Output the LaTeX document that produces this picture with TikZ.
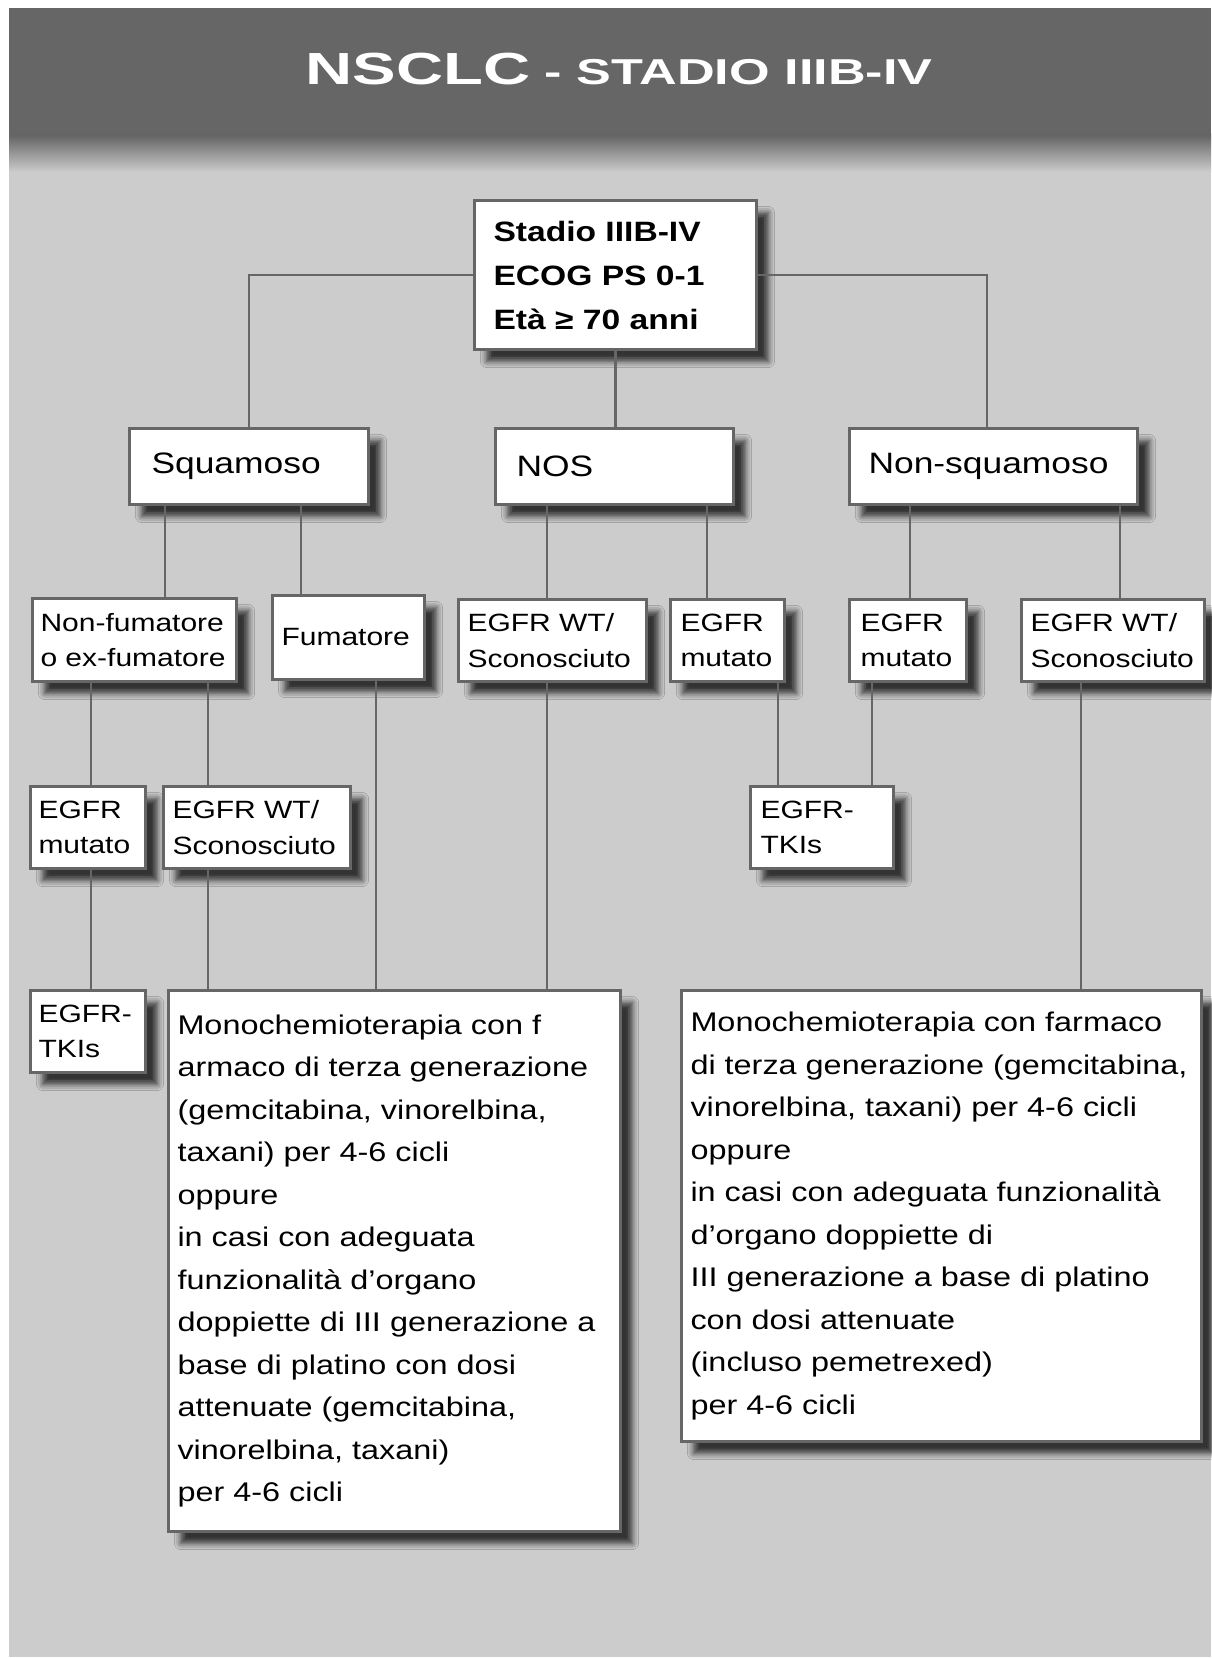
\documentclass[tikz,border=0pt]{standalone}
\usepackage{fontspec}
\setmainfont{Liberation Sans}[FakeStretch=1.2]
\newfontfamily\titlefont{Liberation Sans}[FakeStretch=1.45]
\usetikzlibrary{positioning, shadows.blur}

\definecolor{panelgray}{HTML}{CCCCCC}
\definecolor{bargray}{HTML}{666666}
\definecolor{edgegray}{HTML}{666666}

\begin{document}
\begin{tikzpicture}[
    x=1pt, y=-1pt,
    block/.style={
        rectangle,
        anchor=north west,
        align=left,
        inner ysep=0pt,
        draw=edgegray,
        fill=white,
        line width=3pt,
        blur shadow={shadow xshift=12pt, shadow yshift=-12pt,
            shadow blur radius=6pt, shadow opacity=75}
    },
    lvlone/.style={font=\fontsize{29.5}{36}\selectfont},
    lvltwo/.style={font=\fontsize{25}{35.5}\selectfont},
    lvlthree/.style={font=\fontsize{27}{42.5}\selectfont},
    wire/.style={
        draw=edgegray,
        line width=2.5pt
    }
]

    % page and header bar
    \useasboundingbox (0,0) rectangle (1211,1659);
    \fill [white] (0,0) rectangle (1211,1659);
    \fill [panelgray] (9,8) rectangle (1211,1657);
    \shade [top color=black!62, bottom color=panelgray] (9,134) rectangle (1211,172);
    \fill [bargray] (9,8) rectangle (1211,135);

    \node (title) [anchor=base, text=white, font=\titlefont\bfseries] at (619,85)
        {{\fontsize{45}{54}\selectfont NSCLC}\fontsize{36}{43}\selectfont\ - STADIO IIIB-IV};

    % root
    \node (root) [block, font=\bfseries\fontsize{28}{44}\selectfont,
        minimum width=282pt, minimum height=149pt, inner xsep=19pt, text width=244pt]
        at (473,199) {Stadio IIIB-IV\\ECOG PS 0-1\\Età ≥ 70 anni};

    % histology
    \node (squam) [block, lvlone, minimum width=239pt, minimum height=76pt,
        inner xsep=22pt, text width=195pt] at (128,427) {Squamoso};
    \node (nos) [block, lvlone, minimum width=238pt, minimum height=76pt,
        inner xsep=21pt, text width=196pt] at (494,427) {NOS};
    \node (nonsq) [block, lvlone, minimum width=288pt, minimum height=76pt,
        inner xsep=19pt, text width=250pt] at (848,427) {Non-squamoso};

    % smoking / EGFR status
    \node (nonfum) [block, lvltwo, minimum width=204pt, minimum height=83pt,
        inner xsep=8pt, text width=188pt] at (31,597) {Non-fumatore\\o ex-fumatore};
    \node (fum) [block, lvltwo, minimum width=152pt, minimum height=84pt,
        inner xsep=9pt, text width=134pt] at (271,594) {Fumatore};
    \node (noswt) [block, lvltwo, minimum width=188pt, minimum height=82pt,
        inner xsep=9pt, text width=170pt] at (457,598) {EGFR WT/\\Sconosciuto};
    \node (nosmut) [block, lvltwo, minimum width=114pt, minimum height=82pt,
        inner xsep=10pt, text width=94pt] at (669,598) {EGFR\\mutato};
    \node (nsqmut) [block, lvltwo, minimum width=117pt, minimum height=82pt,
        inner xsep=11pt, text width=95pt] at (848,598) {EGFR\\mutato};
    \node (nsqwt) [block, lvltwo, minimum width=183pt, minimum height=82pt,
        inner xsep=9pt, text width=165pt] at (1020,598) {EGFR WT/\\Sconosciuto};

    \node (mutL) [block, lvltwo, minimum width=115pt, minimum height=82pt,
        inner xsep=8pt, text width=99pt] at (29,785) {EGFR\\mutato};
    \node (wtL) [block, lvltwo, minimum width=187pt, minimum height=82pt,
        inner xsep=9pt, text width=169pt] at (162,785) {EGFR WT/\\Sconosciuto};
    \node (tkiM) [block, lvltwo, minimum width=143pt, minimum height=82pt,
        inner xsep=10pt, text width=123pt] at (749,785) {EGFR-\\TKIs};

    % treatments
    \node (tkiL) [block, lvltwo, minimum width=115pt, minimum height=82pt,
        inner xsep=8pt, text width=99pt] at (29,989) {EGFR-\\TKIs};
    \node (chemoL) [block, lvlthree, minimum width=452pt, minimum height=541pt,
        inner xsep=9pt, text width=434pt] at (167,989)
        {Monochemioterapia con f\\armaco di terza generazione\\(gemcitabina, vinorelbina,\\taxani) per 4-6 cicli\\oppure\\in casi con adeguata\\funzionalità d’organo\\doppiette di III generazione a\\base di platino con dosi\\attenuate (gemcitabina,\\vinorelbina, taxani)\\per 4-6 cicli};
    \node (chemoR) [block, lvlthree, minimum width=520pt, minimum height=451pt,
        inner xsep=9pt, text width=502pt] at (680,989)
        {Monochemioterapia con farmaco\\di terza generazione (gemcitabina,\\vinorelbina, taxani) per 4-6 cicli\\oppure\\in casi con adeguata funzionalità\\d’organo doppiette di\\III generazione a base di platino\\con dosi attenuate\\(incluso pemetrexed)\\per 4-6 cicli};

    % connectors
    \draw [wire] (root.west) -| (squam.north -| 249,0);
    \draw [wire] (root.east) -| (nonsq.north -| 987,0);
    \draw [wire] (root.south) -- (nos.north -| root.south);

    \draw [wire] (squam.south -| 165,0) -- (nonfum.north -| 165,0);
    \draw [wire] (squam.south -| 301,0) -- (fum.north -| 301,0);
    \draw [wire] (nos.south -| 547,0) -- (noswt.north -| 547,0);
    \draw [wire] (nos.south -| 707,0) -- (nosmut.north -| 707,0);
    \draw [wire] (nonsq.south -| 910,0) -- (nsqmut.north -| 910,0);
    \draw [wire] (nonsq.south -| 1120,0) -- (nsqwt.north -| 1120,0);

    \draw [wire] (nonfum.south -| 91,0) -- (mutL.north -| 91,0);
    \draw [wire] (nonfum.south -| 208,0) -- (wtL.north -| 208,0);
    \draw [wire] (fum.south -| 376,0) -- (chemoL.north -| 376,0);
    \draw [wire] (noswt.south -| 547,0) -- (chemoL.north -| 547,0);
    \draw [wire] (nosmut.south -| 778,0) -- (tkiM.north -| 778,0);
    \draw [wire] (nsqmut.south -| 872,0) -- (tkiM.north -| 872,0);
    \draw [wire] (nsqwt.south -| 1081,0) -- (chemoR.north -| 1081,0);

    \draw [wire] (mutL.south -| 91,0) -- (tkiL.north -| 91,0);
    \draw [wire] (wtL.south -| 208,0) -- (chemoL.north -| 208,0);

\end{tikzpicture}
\end{document}
